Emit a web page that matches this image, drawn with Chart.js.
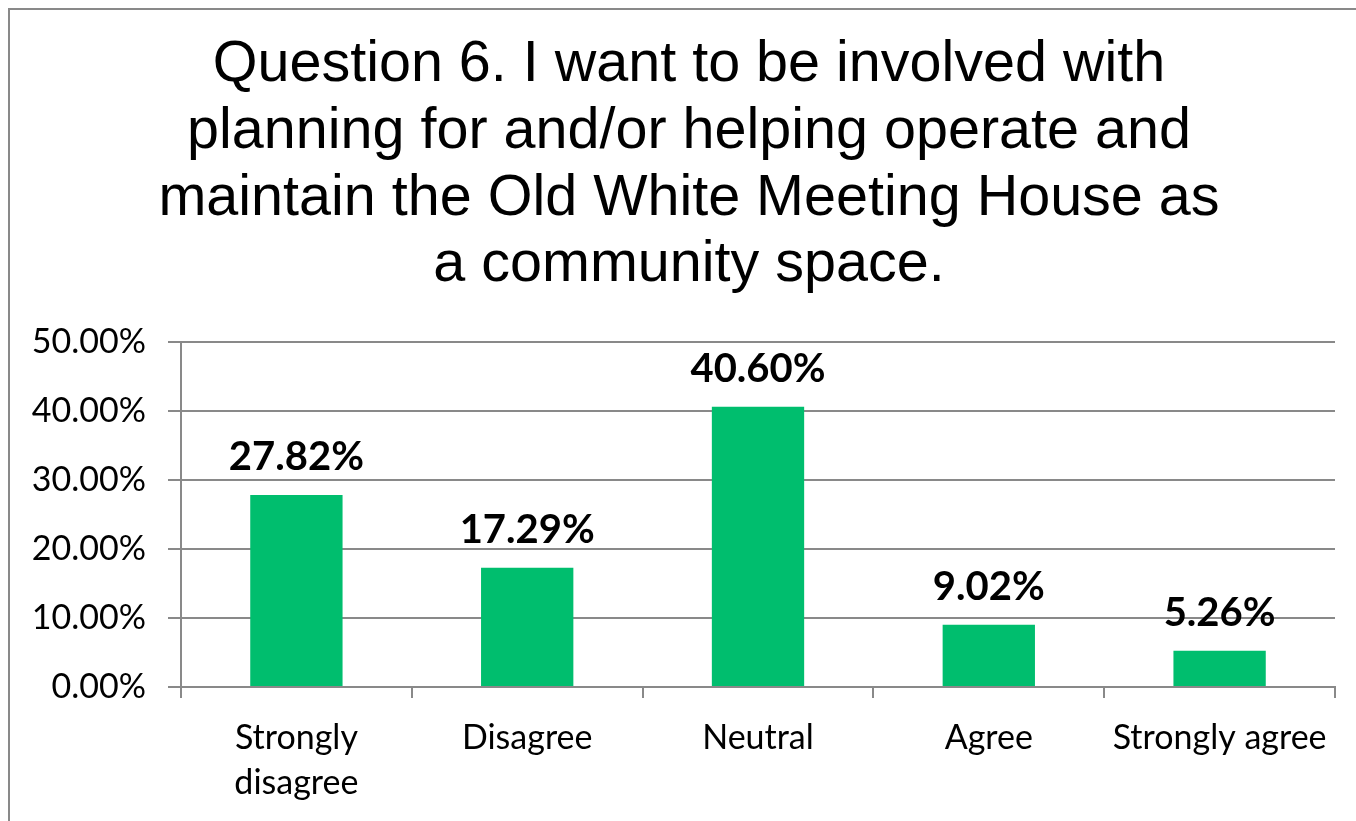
<!DOCTYPE html>
<html>
<head>
<meta charset="utf-8">
<script src="https://cdn.jsdelivr.net/npm/chart.js@4"></script>
<style>
  body { margin: 0; background: #fff; overflow: hidden; }
  #wrap { position: absolute; left: 0; top: 0; width: 1356px; height: 821px; }
  #frame { position: absolute; left: 8px; top: 8px; width: 1370px; height: 840px; border: 2.5px solid #898989; }
</style>
</head>
<body>
<div id="wrap">
  <div id="frame"></div>
  <canvas id="myChart" width="1356" height="821"></canvas>
</div>
<script>
// chart data
const titleLines = [
  'Question 6. I want to be involved with',
  'planning for and/or helping operate and',
  'maintain the Old White Meeting House as',
  'a community space.'
];
const categories = [['Strongly', 'disagree'], 'Disagree', 'Neutral', 'Agree', 'Strongly agree'];
const percents = [27.82, 17.29, 40.60, 9.02, 5.26];
const yTicks = [0, 10, 20, 30, 40, 50];

const gray = '#898989';

// draws the % value above each bar
const barLabels = {
  id: 'barLabels',
  afterDatasetsDraw(chart) {
    const ctx = chart.ctx;
    const meta = chart.getDatasetMeta(0);
    ctx.save();
    ctx.font = 'bold 40px Lato';
    ctx.fillStyle = '#000';
    ctx.textAlign = 'center';
    ctx.textBaseline = 'alphabetic';
    meta.data.forEach((bar, i) => {
      ctx.fillText(percents[i].toFixed(2) + '%', bar.x, bar.y - 25);
    });
    ctx.restore();
  }
};

// title in the original sits a bit right of the centre
const titleShift = {
  id: 'titleShift',
  beforeDraw(chart) {
    if (chart.titleBlock) {
      chart.titleBlock.left = 22;
      chart.titleBlock.right = chart.width;
    }
  }
};

const ctx = document.getElementById('myChart');

new Chart(ctx, {
  type: 'bar',
  data: {
    labels: categories,
    datasets: [{
      data: percents,
      backgroundColor: '#00BE6E',
      barPercentage: 0.4,
      categoryPercentage: 1
    }]
  },
  plugins: [barLabels, titleShift],
  options: {
    responsive: false,
    animation: false,
    layout: { padding: { left: 0, right: 21, top: 0, bottom: 0 } },
    plugins: {
      legend: { display: false },
      tooltip: { enabled: false },
      title: {
        display: true,
        text: titleLines,
        color: '#000',
        font: { family: 'Liberation Sans', size: 57.5, weight: 'normal', lineHeight: 1.16 },
        padding: { top: 32, bottom: 43 }
      }
    },
    scales: {
      y: {
        min: 0,
        max: 50,
        afterFit(scale) { scale.width = 181; },
        afterBuildTicks(scale) { scale.ticks = yTicks.map(v => ({ value: v })); },
        ticks: {
          color: '#000',
          padding: 22,
          font: { family: 'Lato', size: 34 },
          callback: v => v.toFixed(2) + '%'
        },
        grid: { color: gray, lineWidth: 2, tickLength: 13 },
        border: { color: gray, width: 2 }
      },
      x: {
        afterFit(scale) { scale.height = 134; },
        ticks: {
          color: '#000',
          padding: 18,
          maxRotation: 0,
          font: { family: 'Lato', size: 34, lineHeight: 1.32 }
        },
        grid: { offset: true, drawOnChartArea: false, color: gray, lineWidth: 2, tickLength: 11 },
        border: { color: gray, width: 2 }
      }
    }
  }
});
</script>
</body>
</html>
